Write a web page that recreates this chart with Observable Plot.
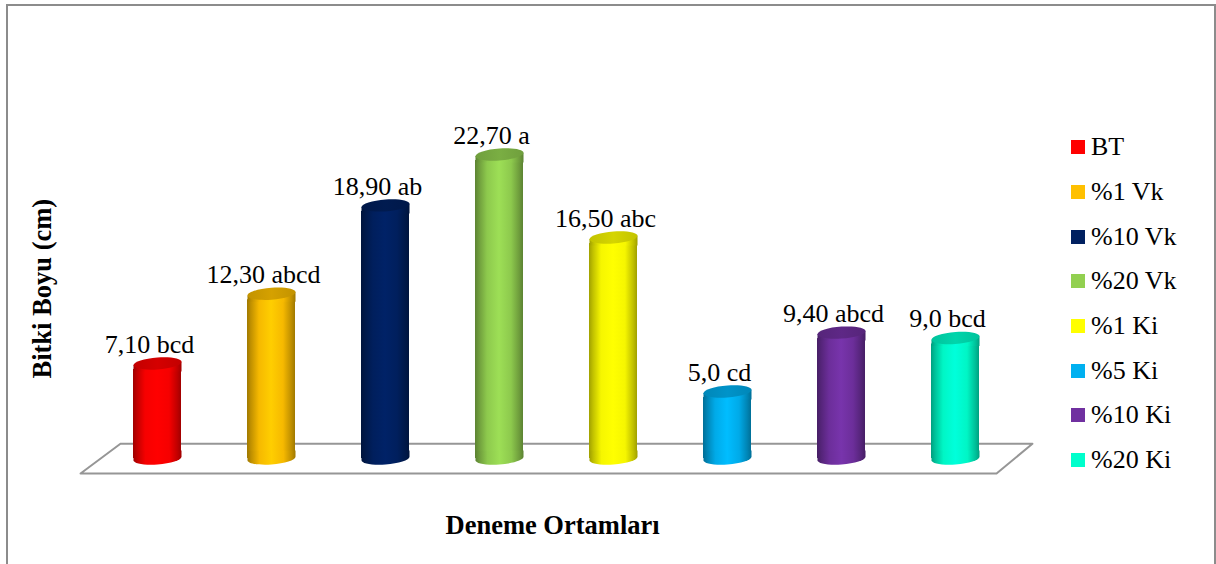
<!DOCTYPE html>
<html>
<head>
<meta charset="utf-8">
<script src="https://cdn.jsdelivr.net/npm/d3@7"></script>
<script src="https://cdn.jsdelivr.net/npm/@observablehq/plot@0.6"></script>
<style>
  html, body { margin: 0; padding: 0; background: #fff; overflow: hidden; }
  #chart { position: relative; width: 1216px; height: 564px; overflow: hidden; font-family: "Liberation Serif", serif; color: #000; }
  #chart svg { position: absolute; left: 0; top: 0; }
  #border { position: absolute; left: 6px; top: 4px; width: 1206px; height: 640px; border: 2px solid #8c8c8c; }
  #legend { position: absolute; left: 1071px; top: 125px; margin: 0; padding: 0; list-style: none; font-size: 26px; }
  #legend li { display: flex; align-items: center; height: 44.7px; white-space: nowrap; }
  #legend i { display: inline-block; width: 14px; height: 14px; margin-right: 6px; }
</style>
</head>
<body>
<div id="chart"><div id="border"></div></div>
<script>
// Mean plant height per growth medium
const categories = ["BT", "%1 Vk", "%10 Vk", "%20 Vk", "%1 Ki", "%5 Ki", "%10 Ki", "%20 Ki"];
const heights = [7.1, 12.3, 18.9, 22.7, 16.5, 5.0, 9.4, 9.0];
const valueLabels = ["7,10 bcd", "12,30 abcd", "18,90 ab", "22,70 a", "16,50 abc", "5,0 cd", "9,40 abcd", "9,0 bcd"];
const colors = ["#ff0000", "#ffc000", "#002060", "#92d050", "#ffff00", "#00b0f0", "#7030a0", "#00ffcc"];

const rows = categories.map((name, i) => ({
  name, i, height: heights[i], label: valueLabels[i], color: colors[i]
}));

// Half the width of a cylinder, in category slots
const half = 0.2105;

// Floor slab under the cylinders, in slot / value units
const floor = [
  {x: -0.325, y: 1.1}, {x: 7.675, y: 1.1}, {x: 7.36, y: -1.12}, {x: -0.675, y: -1.12}, {x: -0.325, y: 1.1}
];

// Cylinder ends are ellipses sheared so that the left side sits lower than the right
const rx = 24, ry = 6, slope = 0.07, k = 0.5523;
const p = (a, b) => [a, b - slope * a];
const seg = (ctx, ...c) => ctx.bezierCurveTo(...p(c[0], c[1]), ...p(c[2], c[3]), ...p(c[4], c[5]));

const cap = {
  draw(ctx) {
    ctx.moveTo(...p(rx, 0));
    seg(ctx, rx, k * ry, k * rx, ry, 0, ry);
    seg(ctx, -k * rx, ry, -rx, k * ry, -rx, 0);
    seg(ctx, -rx, -k * ry, -k * rx, -ry, 0, -ry);
    seg(ctx, k * rx, -ry, rx, -k * ry, rx, 0);
    ctx.closePath();
  }
};

// Lower end of a cylinder, including a short run of its sides
const base = {
  draw(ctx) {
    ctx.moveTo(rx, -8);
    ctx.lineTo(...p(rx, 0));
    seg(ctx, rx, k * ry, k * rx, ry, 0, ry);
    seg(ctx, -k * rx, ry, -rx, k * ry, -rx, 0);
    ctx.lineTo(-rx, -8);
    ctx.closePath();
  }
};

// Upper end of a cylinder's sides, sheared to meet the cap
const shoulder = {
  draw(ctx) {
    ctx.moveTo(...p(-rx, 0));
    ctx.lineTo(-rx, 8);
    ctx.lineTo(rx, 8);
    ctx.lineTo(...p(rx, 0));
    ctx.closePath();
  }
};

const gradients = () => {
  const svg = d3.create("svg:defs");
  const shade = (c, s) => d3.color(c).darker(s).formatHex();
  colors.forEach((c, i) => {
    const body = svg.append("linearGradient").attr("id", `body${i}`);
    [[0, 1.3], [0.08, 0.8], [0.25, 0.1], [0.5, -0.2], [0.75, 0.1], [0.92, 0.8], [1, 1.3]].forEach(([o, s]) =>
      body.append("stop").attr("offset", o).attr("stop-color", shade(c, s)));
    const top = svg.append("linearGradient").attr("id", `top${i}`);
    [[0, 0.75], [0.5, 0.5], [1, 0.75]].forEach(([o, s]) =>
      top.append("stop").attr("offset", o).attr("stop-color", shade(c, s)));
  });
  return svg.node();
};

const bodyFill = {value: d => `url(#body${d.i})`, scale: null};

const plot = Plot.plot({
  width: 1216,
  height: 564,
  margin: 0,
  style: {background: "transparent", fontFamily: "'Liberation Serif', serif", color: "#000"},
  x: {domain: [0, 7], range: [157, 955], axis: null},
  y: {domain: [0, 22.7], range: [458, 154], axis: null},
  marks: [
    gradients,
    Plot.line(floor, {x: "x", y: "y", stroke: "#969696", strokeWidth: 2}),
    // cylinder base, body and cap
    Plot.rect(rows, {
      x1: d => d.i - half, x2: d => d.i + half, y1: () => 0, y2: "height",
      insetTop: 6, fill: bodyFill
    }),
    Plot.dot(rows, {x: "i", y: () => 0, symbol: base, fill: bodyFill}),
    Plot.dot(rows, {x: "i", y: "height", symbol: shoulder, fill: bodyFill}),
    Plot.dot(rows, {x: "i", y: "height", symbol: cap, fill: {value: d => `url(#top${d.i})`, scale: null}}),
    Plot.text(rows, {
      x: "i", y: "height", text: "label", dx: -8, dy: -19,
      fontSize: 26, fill: "#000"
    }),
    // axis titles
    Plot.text(["Deneme Ortamları"], {
      frameAnchor: "bottom-left", dx: 445, dy: -31, fontSize: 26.5, fontWeight: "bold", fill: "#000"
    }),
    Plot.text(["Bitki Boyu (cm)"], {
      frameAnchor: "top-left", dx: 32, dy: 378, rotate: -90, fontSize: 26.5, fontWeight: "bold", fill: "#000"
    })
  ]
});

const chart = document.getElementById("chart");
chart.appendChild(plot);

// Legend on the right of the chart
const legend = d3.select(chart).append("ul").attr("id", "legend");
rows.forEach(d => {
  const li = legend.append("li");
  li.append("i").style("background", d.color);
  li.append("span").text(d.name);
});
</script>
</body>
</html>
